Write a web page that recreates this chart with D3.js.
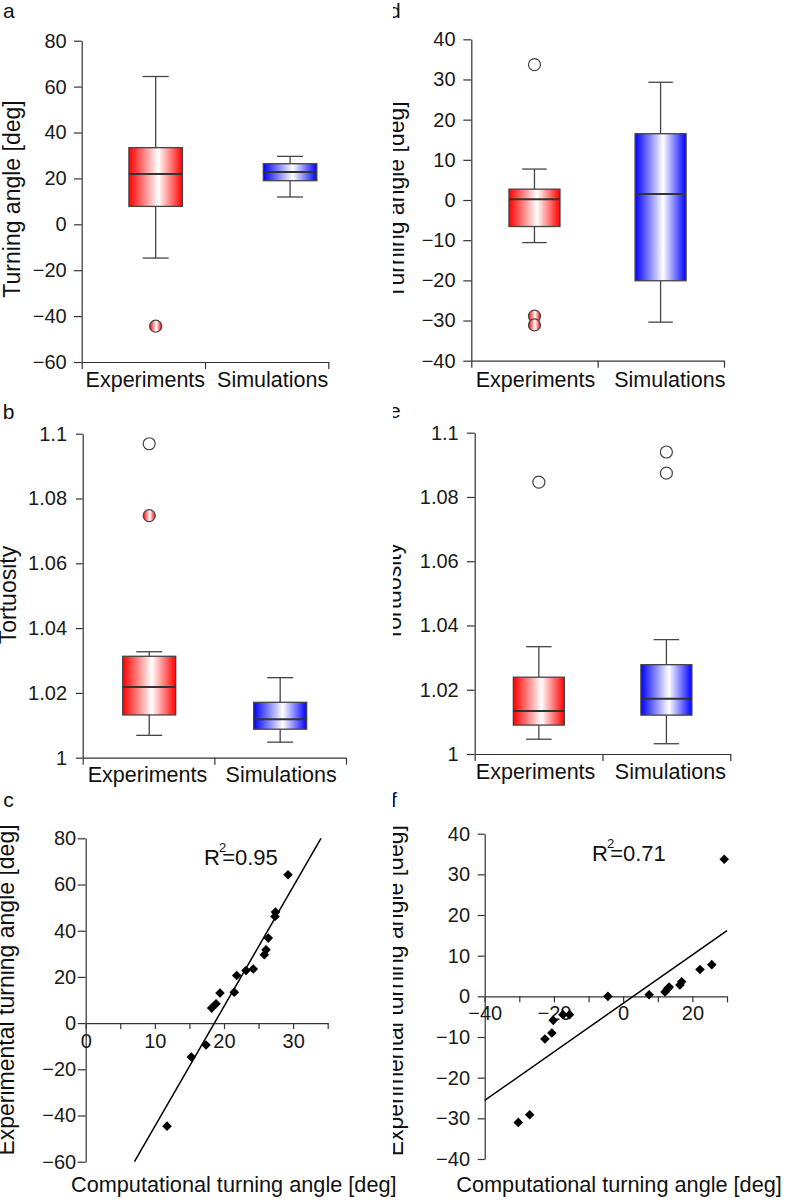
<!DOCTYPE html>
<html><head><meta charset="utf-8">
<script src="https://cdn.jsdelivr.net/npm/d3@7"></script>
<style>
body{margin:0;background:#fff;}
svg{display:block;}
</style>
</head><body>
<svg id="chart" width="787" height="1200"></svg>
<script>
// ---------------- DATA ----------------
const categories = ["Experiments", "Simulations"];

// Panel a: turning angle (box stats: min, q1, median, q3, max)
const aStats = [[-14.7, 7.8, 21.9, 33.4, 64.4], [11.9, 19.0, 22.8, 26.4, 29.6]];
const aOutliers = [[-44.4], []];
const aOutlierFilled = [[true], []];
const aTicks = [-60, -40, -20, 0, 20, 40, 60, 80];

// Panel b: tortuosity
const bStats = [[1.0069, 1.0132, 1.0218, 1.0313, 1.0327], [1.0048, 1.0088, 1.0119, 1.0171, 1.0247]];
const bOutliers = [[1.0969, 1.0747], []];
const bOutlierFilled = [[false, true], []];
const tortTicks = [1, 1.02, 1.04, 1.06, 1.08, 1.1];
const tortTickLabels = ["1", "1.02", "1.04", "1.06", "1.08", "1.1"];

// Panel d: turning angle
const dStats = [[-10.6, -6.6, 0.2, 2.7, 7.7], [-30.4, -20.1, 1.5, 16.5, 29.3]];
const dOutliers = [[33.7, -28.9, -31.1], []];
const dOutlierFilled = [[false, true, true], []];
const dTicks = [-40, -30, -20, -10, 0, 10, 20, 30, 40];

// Panel e: tortuosity
const eStats = [[1.0046, 1.0090, 1.0134, 1.0239, 1.0334], [1.0032, 1.0121, 1.0172, 1.0278, 1.0356]];
const eOutliers = [[1.0846], [1.0940, 1.0874]];
const eOutlierFilled = [[false], [false, false]];

// Panel c: scatter
const cComputational = [11.76, 15.28, 17.4, 18.22, 18.85, 19.42, 21.49, 21.84, 23.18, 24.24, 25.83, 26.08, 26.41, 27.38, 27.45, 29.26];
const cExperimental  = [-44.6, -14.7, -9.5, 6.5, 8.4, 13.0, 13.4, 20.6, 22.8, 23.4, 29.6, 31.7, 36.8, 46.2, 48.1, 64.2];
const cFit = [5.19, -96.6];   // slope, intercept
const cR2 = "0.95";
const cXTicks = [0, 5, 10, 15, 20, 25, 30, 35];
const cXTickLabels = ["0", "", "10", "", "20", "", "30", ""];
const cYTicks = [-60, -40, -20, 0, 20, 40, 60, 80];

// Panel f: scatter
const fComputational = [-30.3, -27.0, -22.6, -20.6, -20.2, -17.4, -15.5, -4.4, 7.5, 12.1, 12.9, 13.3, 16.4, 16.9, 22.2, 25.6, 29.2];
const fExperimental  = [-31.0, -29.1, -10.5, -9.0, -5.9, -4.5, -4.5, 0.0, 0.4, 1.1, 1.9, 2.3, 2.8, 3.6, 6.6, 7.8, 33.7];
const fFit = [0.597, -1.72];
const fR2 = "0.71";
const fXTicks = [-40, -30, -20, -10, 0, 10, 20, 30];
const fXTickLabels = ["\u221240", "", "\u221220", "", "0", "", "20", ""];
const fYTicks = [-40, -30, -20, -10, 0, 10, 20, 30, 40];

// ---------------- DRAW ----------------
const FONT = '"Liberation Sans", Arial, sans-serif';
const AXIS = "#333";
const svg = d3.select("#chart").attr("font-family", FONT);
const defs = svg.append("defs");
function grad(id, color) {
  const g = defs.append("linearGradient").attr("id", id)
    .attr("x1", "0%").attr("x2", "100%").attr("y1", "0%").attr("y2", "0%");
  g.append("stop").attr("offset", "0%").attr("stop-color", color);
  g.append("stop").attr("offset", "55%").attr("stop-color", "#fff");
  g.append("stop").attr("offset", "100%").attr("stop-color", color);
}
grad("gRed", "#ff0000");
grad("gBlue", "#0000ff");
const fills = ["url(#gRed)", "url(#gBlue)"];
defs.append("clipPath").attr("id", "rightClip").attr("clipPathUnits", "userSpaceOnUse")
  .append("rect").attr("x", 393).attr("y", 0).attr("width", 394).attr("height", 1200);

function styleAxis(g, fs) {
  g.attr("font-family", FONT).attr("font-size", fs);
  g.selectAll("path.domain, line").attr("stroke", AXIS).attr("stroke-width", 1.2);
  g.selectAll("text").attr("fill", "#1a1a1a");
}

function holder(right) {
  const h = svg.append("g");
  if (right) h.attr("clip-path", "url(#rightClip)");
  return h;
}
function yTitle(text, x, yc, right) {
  holder(right).append("text")
    .attr("transform", `translate(${x},${yc}) rotate(-90)`)
    .attr("text-anchor", "middle").attr("font-size", 23).attr("fill", "#111")
    .text(text);
}
function letter(text, x, y, right) {
  holder(right).append("text").attr("x", x).attr("y", y).attr("font-size", 21).attr("fill", "#111").text(text);
}

function boxPanel(L, stats, outliers, filled, ticks, tickLabels, domain) {
  const y = d3.scaleLinear().domain(domain).range([L.yBottom, L.yTop]);
  const xEdge = d3.scaleLinear().domain([0, categories.length]).range([L.x0, L.x1]);
  const g = svg.append("g");
  const ya = g.append("g").attr("transform", `translate(${L.x0},0)`)
    .call(d3.axisLeft(y).tickValues(ticks)
      .tickFormat((d, i) => tickLabels ? tickLabels[i] : d3.format("")(d))
      .tickSize(L.tick).tickPadding(L.pad).tickSizeOuter(0));
  styleAxis(ya, 20);
  const xa = g.append("g").attr("transform", `translate(0,${L.yBottom})`)
    .call(d3.axisBottom(xEdge).tickValues(d3.range(categories.length + 1))
      .tickFormat("").tickSize(7).tickSizeOuter(0));
  styleAxis(xa, 20);
  g.selectAll(".cat").data(categories).join("text")
    .attr("x", (d, i) => xEdge(i + 0.5) + L.labelShift[i])
    .attr("y", L.yBottom + L.labelDy)
    .attr("text-anchor", "middle").attr("font-size", 21.5).attr("fill", "#111")
    .text(d => d);

  stats.forEach((s, i) => {
    const cx = xEdge(L.boxPos[i] * categories.length);
    const bg = g.append("g");
    const st = "#444";
    bg.append("line").attr("x1", cx).attr("x2", cx).attr("y1", y(s[0])).attr("y2", y(s[1]))
      .attr("stroke", st).attr("stroke-width", 1.3);
    bg.append("line").attr("x1", cx).attr("x2", cx).attr("y1", y(s[3])).attr("y2", y(s[4]))
      .attr("stroke", st).attr("stroke-width", 1.3);
    [s[0], s[4]].forEach(v => bg.append("line")
      .attr("x1", cx - L.cap / 2).attr("x2", cx + L.cap / 2).attr("y1", y(v)).attr("y2", y(v))
      .attr("stroke", st).attr("stroke-width", 1.3));
    bg.append("rect").attr("x", cx - L.bw / 2).attr("width", L.bw)
      .attr("y", y(s[3])).attr("height", y(s[1]) - y(s[3]))
      .attr("fill", fills[i]).attr("stroke", st).attr("stroke-width", 1.3);
    bg.append("line").attr("x1", cx - L.bw / 2).attr("x2", cx + L.bw / 2)
      .attr("y1", y(s[2])).attr("y2", y(s[2])).attr("stroke", "#333").attr("stroke-width", 2);
    bg.selectAll("circle").data(outliers[i]).join("circle")
      .attr("cx", cx).attr("cy", v => y(v)).attr("r", 6)
      .attr("fill", (v, j) => filled[i][j] ? fills[i] : "#fff")
      .attr("stroke", st).attr("stroke-width", 1.2);
  });
}

function scatterPanel(L, xs, ys, fit, r2, xTicks, xTickLabels, yTicks) {
  const x = d3.scaleLinear().domain(L.xDomain).range([L.x0, L.x1]);
  const y = d3.scaleLinear().domain(L.yDomain).range([L.yBottom, L.yTop]);
  const g = svg.append("g");
  const ya = g.append("g").attr("transform", `translate(${L.x0},0)`)
    .call(d3.axisLeft(y).tickValues(yTicks).tickSize(L.ytick).tickPadding(L.ypad).tickSizeOuter(0));
  styleAxis(ya, 20);
  const xa = g.append("g").attr("transform", `translate(0,${y(0)})`)
    .call(d3.axisBottom(x).tickValues(xTicks).tickFormat((d, i) => xTickLabels[i])
      .tickSize(L.xtick).tickPadding(L.xpad).tickSizeOuter(0));
  styleAxis(xa, 20);
  // fit line
  const [m, b] = fit;
  const xa0 = Math.max(L.xDomain[0], (L.yDomain[0] - b) / m);
  const xa1 = Math.min(L.xDomain[1], (L.yDomain[1] - b) / m);
  g.append("line").attr("x1", x(xa0)).attr("y1", y(m * xa0 + b))
    .attr("x2", x(xa1)).attr("y2", y(m * xa1 + b))
    .attr("stroke", "#000").attr("stroke-width", 1.5);
  // points
  const h = 4.8;
  g.selectAll(".pt").data(xs.map((v, i) => [v, ys[i]])).join("path")
    .attr("d", d => {
      const px = x(d[0]), py = y(d[1]);
      return `M${px},${py - h}L${px + h},${py}L${px},${py + h}L${px - h},${py}Z`;
    }).attr("fill", "#000");
  // R^2 label
  const t = g.append("text").attr("x", L.x0 + L.r2dx).attr("y", L.yTop + L.r2dy)
    .attr("font-size", 22).attr("fill", "#111");
  t.append("tspan").text("R");
  t.append("tspan").attr("dx", -1).attr("dy", -13).attr("font-size", 13).text("2");
  t.append("tspan").attr("dx", -4).attr("dy", 13).text("=" + r2);
  // x title
  g.append("text").attr("x", L.xtX).attr("y", L.xtY).attr("font-size", 21.7).attr("fill", "#111")
    .text("Computational turning angle [deg]");
}

const La = {x0: 81.7, x1: 328.3, yTop: 40.7, yBottom: 362, tick: 7.7, pad: 7.3,
  boxPos: [0.30, 0.845], bw: 53.5, cap: 26, labelShift: [2, 6], labelDy: 24.7};
const Lb = {x0: 82.7, x1: 346, yTop: 433.7, yBottom: 757.7, tick: 6.7, pad: 9,
  boxPos: [0.2526, 0.75], bw: 53, cap: 26, labelShift: [-1, 1], labelDy: 24};
const Ld = {x0: 471.3, x1: 724, yTop: 39.3, yBottom: 360.7, tick: 8, pad: 7.7,
  boxPos: [0.25, 0.749], bw: 51, cap: 24.5, labelShift: [1, 9], labelDy: 26};
const Le = {x0: 474.7, x1: 730.3, yTop: 432.7, yBottom: 754, tick: 7.7, pad: 8.3,
  boxPos: [0.251, 0.75], bw: 51, cap: 25.5, labelShift: [-3, 4], labelDy: 25};
const Lc = {x0: 85.7, x1: 327.7, yTop: 838.3, yBottom: 1161.7, xDomain: [0, 35], yDomain: [-60, 80],
  ytick: 8, ypad: 1.5, xtick: 6, xpad: 5, r2dx: 118.3, r2dy: 26.7, xtX: 71, xtY: 1192};
const Lf = {x0: 484.7, x1: 727, yTop: 833.7, yBottom: 1159, xDomain: [-40, 30], yDomain: [-40, 40],
  ytick: 7, ypad: 7.7, xtick: 6, xpad: 3, r2dx: 107.3, r2dy: 27.3, xtX: 456.3, xtY: 1192};

boxPanel(La, aStats, aOutliers, aOutlierFilled, aTicks, null, [-60, 80]);
boxPanel(Lb, bStats, bOutliers, bOutlierFilled, tortTicks, tortTickLabels, [1, 1.1]);
boxPanel(Ld, dStats, dOutliers, dOutlierFilled, dTicks, null, [-40, 40]);
boxPanel(Le, eStats, eOutliers, eOutlierFilled, tortTicks, tortTickLabels, [1, 1.1]);
scatterPanel(Lc, cComputational, cExperimental, cFit, cR2, cXTicks, cXTickLabels, cYTicks);
scatterPanel(Lf, fComputational, fExperimental, fFit, fR2, fXTicks, fXTickLabels, fYTicks);

yTitle("Turning angle [deg]", 19.5, 199, false);
yTitle("Tortuosity", 16, 595, false);
yTitle("Experimental turning angle [deg]", 14, 990, false);
yTitle("Turning angle [deg]", 404, 200, true);
yTitle("Tortuosity", 401, 592, true);
yTitle("Experimental turning angle [deg]", 402.5, 990.7, true);

letter("a", 3, 18.3, false);
letter("b", 2.7, 419.3, false);
letter("c", 3.3, 806.7, false);
letter("d", 389, 18.3, true);
letter("e", 389, 418.3, true);
letter("f", 391, 806.7, true);
</script>
</body></html>
